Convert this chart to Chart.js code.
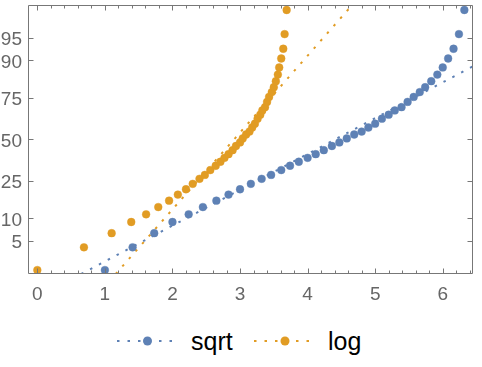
<!DOCTYPE html>
<html>
<head>
<meta charset="utf-8">
<script src="https://cdn.jsdelivr.net/npm/chart.js@4.4.1/dist/chart.umd.min.js"></script>
<style>
  html, body { margin: 0; padding: 0; background: #fff; }
  #wrap { position: relative; width: 482px; height: 367px; font-family: "Liberation Sans", Arial, sans-serif; }
  #box { position: absolute; left: 0; top: 0; width: 482px; height: 310px; }
  .lg { position: absolute; top: 329px; font-size: 25px; line-height: 25px; color: #000; }
  .mk { position: absolute; top: 336px; }
</style>
</head>
<body>
<div id="wrap">
  <div id="box"><canvas id="chart"></canvas></div>
  <svg class="mk" style="left:117px" width="58" height="10">
    <line x1="0" y1="5" x2="58" y2="5" stroke="#5e81b5" stroke-width="2" stroke-dasharray="2.5 8"/>
    <circle cx="30.5" cy="5" r="4.5" fill="#5e81b5"/>
  </svg>
  <span class="lg" style="left:191px">sqrt</span>
  <svg class="mk" style="left:254px" width="58" height="10">
    <line x1="0" y1="5" x2="58" y2="5" stroke="#e19c24" stroke-width="2" stroke-dasharray="2.5 8"/>
    <circle cx="31" cy="5" r="4.5" fill="#e19c24"/>
  </svg>
  <span class="lg" style="left:328px">log</span>
</div>
<script>
const seriesNames = ['sqrt', 'log'];
const colors = ['#5e81b5', '#e19c24'];

// sorted sample values (x) and their plotting probabilities in percent (y)
const sqrtX = [1, 1.41, 1.73, 2, 2.24, 2.45, 2.65, 2.83, 3, 3.16, 3.32, 3.46, 3.61, 3.74, 3.87, 4, 4.12, 4.24, 4.36, 4.47,
  4.58, 4.69, 4.8, 4.9, 5, 5.1, 5.2, 5.29, 5.39, 5.48, 5.57, 5.66, 5.74, 5.83, 5.92, 6, 6.08, 6.16, 6.24, 6.32];
const logX = [0, 0.69, 1.1, 1.39, 1.61, 1.79, 1.95, 2.08, 2.2, 2.3, 2.4, 2.48, 2.56, 2.64, 2.71, 2.77, 2.83, 2.89, 2.94, 3,
  3.04, 3.09, 3.14, 3.18, 3.22, 3.26, 3.3, 3.33, 3.37, 3.4, 3.43, 3.47, 3.5, 3.53, 3.56, 3.58, 3.61, 3.64, 3.66, 3.69];
const probY = [1.7, 4.0, 6.4, 9.0, 11.2, 13.6, 16.0, 18.5, 20.9, 23.5, 26.1, 28.2, 30.9, 33.4, 35.8, 38.2, 40.5, 43.0, 45.7, 48.0,
  50.6, 53.1, 55.0, 57.6, 60.0, 63.1, 65.5, 68.0, 69.9, 72.8, 75.4, 77.8, 80.1, 82.7, 85.3, 87.8, 90.5, 92.9, 95.6, 98.2];

// reference lines (straight on the probability scale)
const sqrtRefX = [0.65, 6.45];
const sqrtRefY = [1.45, 88.2];
const logRefX = [1.16, 4.66];
const logRefY = [1.45, 98.53];

const xTicks = [0, 1, 2, 3, 4, 5, 6];
const yTicks = [5, 10, 25, 50, 75, 90, 95];

// inverse normal CDF (Acklam)
function probit(p) {
  const a = [-39.69683028665376, 220.9460984245205, -275.9285104469687, 138.3577518672690, -30.66479806614716, 2.506628277459239];
  const b = [-54.47609879822406, 161.5858368580409, -155.6989798598866, 66.80131188771972, -13.28068155288572];
  const c = [-0.007784894002430293, -0.3223964580411365, -2.400758277161838, -2.549732539343734, 4.374664141464968, 2.938163982698783];
  const d = [0.007784695709041462, 0.3224671290700398, 2.445134137142996, 3.754408661907416];
  const pl = 0.02425;
  let q, r;
  if (p < pl) {
    q = Math.sqrt(-2 * Math.log(p));
    return (((((c[0]*q+c[1])*q+c[2])*q+c[3])*q+c[4])*q+c[5]) / ((((d[0]*q+d[1])*q+d[2])*q+d[3])*q+1);
  }
  if (p > 1 - pl) {
    q = Math.sqrt(-2 * Math.log(1 - p));
    return -(((((c[0]*q+c[1])*q+c[2])*q+c[3])*q+c[4])*q+c[5]) / ((((d[0]*q+d[1])*q+d[2])*q+d[3])*q+1);
  }
  q = p - 0.5; r = q * q;
  return (((((a[0]*r+a[1])*r+a[2])*r+a[3])*r+a[4])*r+a[5])*q / (((((b[0]*r+b[1])*r+b[2])*r+b[3])*r+b[4])*r+1);
}
function normCdf(z) {
  const t = 1 / (1 + 0.2316419 * Math.abs(z));
  const y = t * (0.319381530 + t * (-0.356563782 + t * (1.781477937 + t * (-1.821255978 + t * 1.330274429))));
  const p = 1 - Math.exp(-z * z / 2) / Math.sqrt(2 * Math.PI) * y;
  return z >= 0 ? p : 1 - p;
}

class ProbitScale extends Chart.LinearScale {
  getPixelForValue(value) {
    const z0 = probit(this.min / 100), z1 = probit(this.max / 100);
    return this.getPixelForDecimal((probit(value / 100) - z0) / (z1 - z0));
  }
  getValueForPixel(pixel) {
    const z0 = probit(this.min / 100), z1 = probit(this.max / 100);
    return 100 * normCdf(z0 + this.getDecimalForPixel(pixel) * (z1 - z0));
  }
}
ProbitScale.id = 'probit';
ProbitScale.defaults = {};
Chart.register(ProbitScale);

function pts(xs, ys) { return xs.map((x, i) => ({ x: x, y: ys[i] })); }

const frame = {
  id: 'frame',
  afterDatasetsDraw(chart) {
    const { ctx, chartArea: a, scales: { x, y } } = chart;
    ctx.save();
    ctx.strokeStyle = '#777';
    ctx.lineWidth = 1;
    const L = Math.round(a.left) + 0.5, R = Math.round(a.right) - 0.5;
    const T = Math.round(a.top) + 0.5, B = Math.round(a.bottom) - 0.5;
    ctx.beginPath();
    ctx.rect(L, T, R - L, B - T);
    for (let k = 0; k <= 32; k++) {
      const v = k / 5;
      if (v > x.max) break;
      const px = Math.round(x.getPixelForValue(v)) + 0.5;
      const len = k % 5 === 0 ? 5 : 3;
      ctx.moveTo(px, B); ctx.lineTo(px, B - len);
      ctx.moveTo(px, T); ctx.lineTo(px, T + len);
    }
    yTicks.forEach(v => {
      const py = Math.round(y.getPixelForValue(v)) + 0.5;
      ctx.moveTo(L, py); ctx.lineTo(L + 5, py);
      ctx.moveTo(R, py); ctx.lineTo(R - 5, py);
    });
    ctx.stroke();
    ctx.restore();
  }
};

const tickFont = { family: '"Liberation Sans", Arial, sans-serif', size: 19 };

new Chart(document.getElementById('chart'), {
  type: 'scatter',
  data: {
    datasets: [
      { label: seriesNames[0], data: pts(sqrtX, probY), backgroundColor: colors[0], borderColor: 'rgba(94,129,181,0.4)',
        borderWidth: 1, pointRadius: 3.9, showLine: false, order: 1 },
      { label: seriesNames[1], data: pts(logX, probY), backgroundColor: colors[1], borderColor: 'rgba(225,156,36,0.4)',
        borderWidth: 1, pointRadius: 3.9, showLine: false, order: 2 },
      { label: seriesNames[0] + ' ref', data: pts(sqrtRefX, sqrtRefY), showLine: true, pointRadius: 0,
        borderColor: colors[0], borderWidth: 2, borderDash: [2.5, 7.5], order: 3 },
      { label: seriesNames[1] + ' ref', data: pts(logRefX, logRefY), showLine: true, pointRadius: 0,
        borderColor: colors[1], borderWidth: 2, borderDash: [2.5, 7.5], order: 4 }
    ]
  },
  options: {
    responsive: true,
    maintainAspectRatio: false,
    animation: false,
    events: [],
    layout: { padding: { top: 1, right: 9, left: 0, bottom: 0 } },
    plugins: { legend: { display: false }, tooltip: { enabled: false } },
    scales: {
      x: {
        type: 'linear',
        min: -0.138,
        max: 6.448,
        grid: { display: false, drawTicks: false },
        border: { display: false },
        afterBuildTicks: s => { s.ticks = xTicks.map(v => ({ value: v })); },
        afterFit: s => { s.height = 36; s.paddingLeft = 0; s.paddingRight = 0; },
        ticks: { color: '#666', font: tickFont, padding: 9, autoSkip: false, maxRotation: 0, callback: v => String(v) }
      },
      y: {
        type: 'probit',
        min: 1.448,
        max: 98.53,
        grid: { display: false, drawTicks: false },
        border: { display: false },
        afterBuildTicks: s => { s.ticks = yTicks.map(v => ({ value: v })); },
        afterFit: s => { s.width = 28; s.paddingTop = 0; s.paddingBottom = 0; },
        ticks: { color: '#666', font: tickFont, padding: 6, labelOffset: 2, autoSkip: false, callback: v => String(v) }
      }
    }
  },
  plugins: [frame]
});
</script>
</body>
</html>
